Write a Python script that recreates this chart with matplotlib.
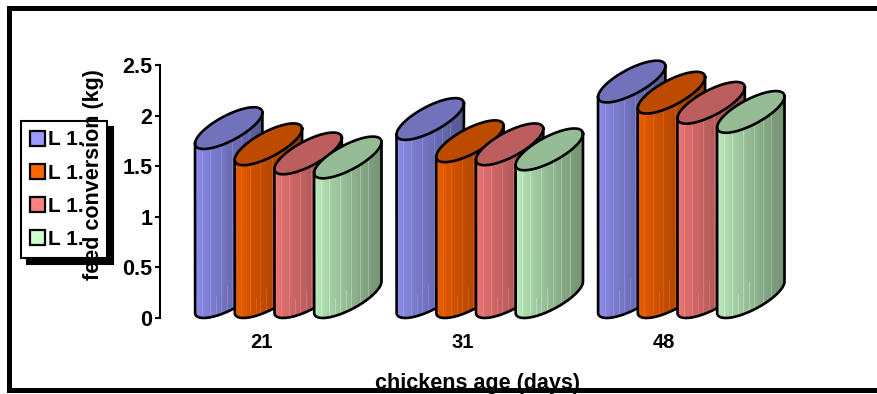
import numpy as np
import matplotlib
matplotlib.use('Agg')
import matplotlib.pyplot as plt
from matplotlib.patches import Patch, Rectangle

plt.rcParams['font.family'] = ['Liberation Sans', 'DejaVu Sans']
plt.rcParams['font.weight'] = 'bold'

# Feed conversion per age group
ages = ['21', '31', '48']
line_labels = ['L 1.', 'L 1.', 'L 1.', 'L 1.']
l1 = [1.67, 1.76, 2.13]
l2 = [1.51, 1.54, 2.02]
l3 = [1.42, 1.51, 1.92]
l4 = [1.38, 1.46, 1.83]
series = [l1, l2, l3, l4]
colors = ['#9999FF', '#FF6600', '#FF8080', '#CCFFCC']

W, H = 877, 394
fig = plt.figure(figsize=(W / 100, H / 100), dpi=100)
ax = fig.add_axes([160 / W, 1 - 318 / H, 700 / W, 253 / H])
# x axis runs in pixels so the slanted cylinders keep their shape
ax.set_xlim(160, 860)
ax.set_ylim(0, 2.5)
px = 2.5 / 253

group_step = 201.5
bar_step = 39.7
first_left = 195
rx = 33.7      # half width of the cylinder
slant = 15.5   # rise of the ellipse from centre to right end
minor = 14.0   # thickness of the ellipse


def ellipse(t):
    return rx * np.cos(t), slant * np.cos(t) - minor * np.sin(t)


def draw_bar(left, value, color, z):
    rgb = np.array(matplotlib.colors.to_rgb(color)) * 0.92
    cx = left + rx
    # lowest point of the front arc sits at the value / at zero
    t = np.linspace(np.pi, 0, 160)
    dx, dy = ellipse(t)
    dip = -dy.min()
    front = (dy + dip) * px
    xs = cx + dx

    # base coat so band seams never show the neighbouring bar
    ax.fill_between(xs, front, front + value, color=rgb * 0.85, linewidth=0, zorder=z, clip_on=False)

    # shaded body, one vertical band at a time
    edges = np.linspace(left, left + 2 * rx, 25)
    for i in range(len(edges) - 1):
        m = (xs >= edges[i] - 0.5) & (xs <= edges[i + 1] + 0.5)
        f = i / (len(edges) - 2)
        shade = 1 - 0.38 * f ** 0.8
        ax.fill_between(xs[m], front[m], front[m] + value, color=rgb * shade,
                        linewidth=0, zorder=z, clip_on=False)

    # lighter streaks on the front
    for f, top in [(0.1, 1.0), (0.22, 1.0), (0.31, 0.12), (0.38, 1.0), (0.47, 0.16),
                   (0.55, 1.0), (0.68, 1.0), (0.8, 1.0)]:
        x = left + f * 2 * rx
        y0 = np.interp(x, xs, front)
        ax.plot([x, x], [y0, y0 + top * value], color=np.minimum(rgb * 1.08 * (1 - 0.3 * f) + 0.06, 1),
                lw=0.6, alpha=0.7, zorder=z + 0.01, clip_on=False)

    # top face
    t2 = np.linspace(0, 2 * np.pi, 240)
    ex, ey = ellipse(t2)
    top_x = cx + ex
    top_y = value + (ey + dip) * px
    ax.fill(top_x, top_y, color=rgb * 0.8, linewidth=0, zorder=z + 0.02, clip_on=False)

    # outline of body and top face
    ox = np.concatenate([[left], xs, [left + 2 * rx]])
    oy = np.concatenate([[front[0] + value], front, [front[-1] + value]])
    ax.plot(ox, oy, color='black', lw=1.9, solid_joinstyle='round', zorder=z + 0.03, clip_on=False)
    ax.plot(top_x, top_y, color='black', lw=1.9, solid_joinstyle='round', zorder=z + 0.03, clip_on=False)


# each bar stacks on top of the one to its left
for g in range(len(ages)):
    for s, vals in enumerate(series):
        draw_bar(first_left + g * group_step + s * bar_step, vals[g], colors[s], 3 + s * 0.1)

for side in ['top', 'right', 'bottom']:
    ax.spines[side].set_visible(False)
ax.spines['left'].set_linewidth(1.5)
ax.set_yticks([0, 0.5, 1, 1.5, 2, 2.5])
ax.set_yticklabels(['0', '0.5', '1', '1.5', '2', '2.5'], fontsize=15.5, fontweight='bold')
ax.tick_params(axis='y', length=3.6, width=1.5, pad=1.8)
ax.set_xticks(261 + np.arange(len(ages)) * group_step)
ax.set_xticklabels(ages, fontsize=14.5, fontweight='bold')
ax.tick_params(axis='x', length=0, pad=11)

handles = [Patch(facecolor=c, edgecolor='black', linewidth=1.6) for c in colors]
leg = ax.legend(handles, line_labels, loc='upper left', mode='expand',
                bbox_to_anchor=(21 / W, 1 - 259 / H, 86 / W, 138 / H), bbox_transform=fig.transFigure,
                fontsize=15, fancybox=False, framealpha=1, edgecolor='black',
                shadow={'ox': 4.3, 'oy': -4.3, 'color': 'black', 'alpha': 1},
                handlelength=0.72, handleheight=0.72, handletextpad=0.15,
                labelspacing=0.68, borderpad=0.45, borderaxespad=0, labelcolor='black')
leg.get_frame().set_linewidth(1.5)
leg.set_zorder(5)

fig.text(93 / W, 1 - 175 / H, 'feed conversion (kg)', rotation=90, fontsize=15.5, fontweight='bold',
         ha='center', va='center', zorder=3)
fig.text(477 / W, 1 - 383 / H, 'chickens age (days)', fontsize=15.5, fontweight='bold',
         ha='center', va='center', zorder=3)

# thick border, open on the right
for x, y, w, h in [(7, 6, W - 7, 5), (7, 6, 5, 387), (7, 388, W - 7, 5)]:
    fig.add_artist(Rectangle((x / W, 1 - (y + h) / H), w / W, h / H, transform=fig.transFigure,
                             facecolor='black', edgecolor='none', zorder=4))

fig.savefig('out.png', dpi=100)
